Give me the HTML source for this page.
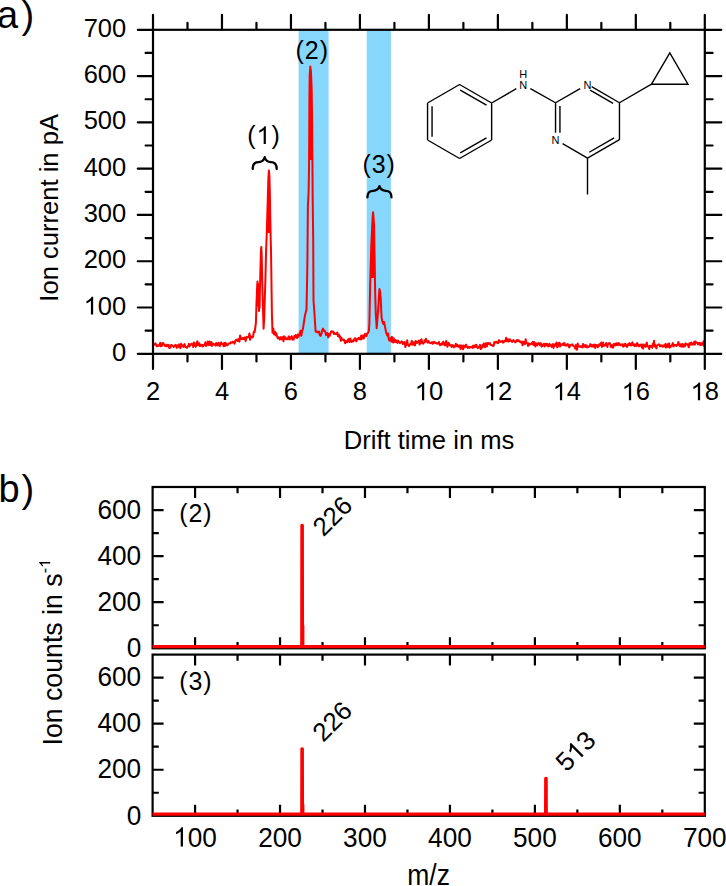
<!DOCTYPE html>
<html><head><meta charset="utf-8"><style>
html,body{margin:0;padding:0;background:#fff;width:726px;height:886px;overflow:hidden}
svg{display:block}
text{font-family:"Liberation Sans",sans-serif}
</style></head><body>
<svg width="726" height="886" viewBox="0 0 726 886" font-family="Liberation Sans, sans-serif">
<rect width="726" height="886" fill="#fff"/>
<rect x="298.6" y="29.8" width="30.0" height="324.0" fill="rgb(135,214,252)"/>
<rect x="366.7" y="29.8" width="24.2" height="324.0" fill="rgb(135,214,252)"/>
<path d="M153.00,344.05 L153.60,345.15 L154.20,344.20 L154.80,344.14 L155.40,343.36 L156.00,344.39 L156.60,346.23 L157.20,345.36 L157.80,346.24 L158.40,345.23 L159.00,345.48 L159.60,345.26 L160.20,342.81 L160.80,346.27 L161.40,345.85 L162.00,345.90 L162.60,343.00 L163.20,342.98 L163.80,344.19 L164.40,344.81 L165.00,345.91 L165.62,345.48 L166.23,346.28 L166.85,344.75 L167.46,346.07 L168.08,346.22 L168.69,344.84 L169.31,348.09 L169.92,346.56 L170.54,347.46 L171.15,345.05 L171.77,344.92 L172.38,345.50 L173.00,345.86 L173.62,346.89 L174.23,346.41 L174.85,345.51 L175.46,344.86 L176.08,345.49 L176.69,347.88 L177.31,345.18 L177.92,346.64 L178.54,346.92 L179.15,344.37 L179.77,346.49 L180.38,348.22 L181.00,343.78 L181.61,346.00 L182.22,346.23 L182.83,345.20 L183.43,346.91 L184.04,346.09 L184.65,344.13 L185.26,347.16 L185.87,346.88 L186.48,347.19 L187.09,347.79 L187.70,346.27 L188.30,345.88 L188.91,343.90 L189.52,346.42 L190.13,344.70 L190.74,344.85 L191.35,343.68 L191.96,344.02 L192.57,344.54 L193.17,346.94 L193.78,342.39 L194.39,343.10 L195.00,345.32 L195.61,346.91 L196.21,345.70 L196.82,342.31 L197.43,341.43 L198.04,345.27 L198.64,343.75 L199.25,343.19 L199.86,345.98 L200.46,346.10 L201.07,344.78 L201.68,344.86 L202.29,345.07 L202.89,346.59 L203.50,345.24 L204.11,345.06 L204.71,345.05 L205.32,342.15 L205.93,345.96 L206.54,345.48 L207.14,344.86 L207.75,341.44 L208.36,343.20 L208.96,345.15 L209.57,341.53 L210.18,343.68 L210.79,345.26 L211.39,342.07 L212.00,345.97 L212.61,344.57 L213.22,343.65 L213.83,344.32 L214.43,344.78 L215.04,344.09 L215.65,345.50 L216.26,343.09 L216.87,343.45 L217.48,345.44 L218.09,344.10 L218.70,342.90 L219.30,345.39 L219.91,346.12 L220.52,343.56 L221.13,342.33 L221.74,344.04 L222.35,344.04 L222.96,343.87 L223.57,346.19 L224.17,342.94 L224.78,346.05 L225.39,342.66 L226.00,343.34 L226.61,345.01 L227.22,345.44 L227.83,344.83 L228.44,343.89 L229.05,343.38 L229.66,343.15 L230.27,343.48 L230.88,342.22 L231.49,342.59 L232.10,342.74 L232.70,341.73 L233.31,342.52 L233.92,342.01 L234.53,343.71 L235.14,341.20 L235.75,339.94 L236.36,339.77 L236.97,340.01 L237.58,341.03 L238.19,339.09 L238.80,339.82 L239.42,341.65 L240.04,335.58 L240.66,337.39 L241.28,339.11 L241.90,339.19 L242.52,338.84 L243.14,337.81 L243.76,339.14 L244.38,338.51 L245.00,337.30 L245.62,341.16 L246.25,338.23 L246.88,336.88 L247.50,337.37 L248.12,337.07 L248.75,337.17 L249.38,333.44 L250.00,336.34 L250.00,339.86 L250.60,336.22 L251.20,337.01 L251.80,337.69 L252.40,336.86 L253.00,337.01 L253.85,331.45 L254.70,332.02 L255.30,327.29 L255.90,323.00 L256.50,303.00 L257.20,285.00 L257.50,281.50 L257.80,300.00 L258.10,284.00 L258.40,306.00 L258.70,290.00 L259.00,311.00 L259.30,296.00 L259.60,308.00 L259.90,290.00 L260.40,270.00 L261.00,250.00 L261.30,247.00 L261.70,255.00 L262.20,280.00 L262.70,300.00 L263.00,309.00 L263.60,328.64 L264.20,318.00 L264.80,299.00 L265.40,280.00 L265.80,262.00 L266.10,250.00 L266.70,235.00 L267.30,215.00 L267.90,195.00 L268.40,178.00 L268.90,170.40 L269.40,176.00 L269.90,195.00 L270.20,215.00 L270.60,235.00 L271.00,250.00 L271.40,279.00 L271.90,313.50 L272.50,332.77 L273.30,328.48 L274.10,334.37 L274.90,331.75 L275.60,335.39 L276.30,333.22 L277.00,336.24 L277.68,338.24 L278.35,337.05 L279.02,338.13 L279.70,339.58 L280.35,338.04 L281.00,337.08 L281.62,339.37 L282.25,338.82 L282.88,337.10 L283.50,341.31 L284.12,336.15 L284.75,339.03 L285.38,337.54 L286.00,338.18 L286.64,339.07 L287.29,338.53 L287.93,339.21 L288.57,336.40 L289.21,336.53 L289.86,339.52 L290.50,337.50 L291.14,337.16 L291.79,336.30 L292.43,339.74 L293.07,338.78 L293.71,339.50 L294.36,335.99 L295.00,337.00 L295.70,335.11 L296.40,337.33 L297.10,338.10 L297.80,334.40 L298.47,336.84 L299.13,335.20 L299.80,332.76 L300.55,330.79 L301.30,335.80 L302.15,331.12 L303.00,328.60 L303.60,324.50 L304.20,320.40 L304.80,316.30 L305.65,312.80 L306.50,309.30 L307.00,285.00 L307.40,262.00 L307.90,205.00 L308.60,192.00 L309.00,170.00 L309.20,140.00 L309.40,100.00 L309.70,75.00 L310.30,66.50 L311.00,72.00 L311.70,90.00 L312.10,120.00 L312.40,160.00 L312.70,200.00 L313.20,240.00 L313.50,300.50 L314.40,312.80 L315.00,322.45 L315.60,331.29 L316.37,332.07 L317.13,331.52 L317.90,332.42 L319.00,331.62 L319.80,334.98 L320.60,335.91 L321.30,334.41 L322.00,330.76 L323.00,328.60 L324.00,330.88 L324.67,330.82 L325.33,332.00 L326.00,334.92 L326.73,334.28 L327.47,333.17 L328.20,337.38 L328.97,333.76 L329.73,335.74 L330.50,333.43 L331.13,331.37 L331.77,331.39 L332.40,331.72 L333.10,331.51 L333.80,333.99 L334.50,332.92 L335.17,333.97 L335.83,334.15 L336.50,333.87 L337.25,332.44 L338.00,336.19 L338.80,334.42 L339.60,337.44 L340.22,336.46 L340.84,340.76 L341.46,337.87 L342.08,339.72 L342.70,339.69 L343.32,340.12 L343.94,339.57 L344.56,340.90 L345.18,343.21 L345.80,341.06 L346.42,341.67 L347.04,342.25 L347.66,340.58 L348.28,339.10 L348.90,340.00 L349.52,342.15 L350.14,338.43 L350.76,339.79 L351.38,341.91 L352.00,341.57 L352.62,340.46 L353.24,341.49 L353.86,340.57 L354.48,338.71 L355.10,338.14 L355.72,339.34 L356.34,341.40 L356.96,339.34 L357.58,338.83 L358.20,338.96 L358.80,337.68 L359.40,339.34 L360.00,337.66 L360.60,339.49 L361.20,335.56 L361.80,338.94 L362.40,337.38 L363.00,335.38 L363.68,338.54 L364.36,336.75 L365.04,333.67 L365.72,335.06 L366.40,336.19 L367.30,333.28 L368.10,332.80 L368.90,330.61 L369.40,322.40 L370.20,283.30 L371.30,245.70 L372.20,225.00 L373.00,212.20 L373.60,218.00 L374.10,226.00 L374.60,257.00 L375.10,289.80 L375.80,314.30 L376.70,328.20 L377.50,318.00 L378.40,306.00 L379.00,295.00 L379.50,289.00 L380.10,292.00 L380.70,298.00 L381.20,310.00 L381.60,317.60 L382.50,322.00 L383.30,324.00 L384.10,322.00 L384.90,326.14 L386.00,331.80 L386.90,334.79 L387.50,335.73 L388.10,333.54 L388.70,338.79 L389.30,340.57 L389.93,338.49 L390.57,338.34 L391.20,341.69 L391.83,336.78 L392.47,339.88 L393.10,342.61 L393.73,338.17 L394.37,340.44 L395.00,342.15 L395.80,340.10 L396.60,341.69 L397.40,342.82 L398.01,340.52 L398.62,341.76 L399.24,342.42 L399.85,343.28 L400.46,342.26 L401.07,342.18 L401.68,341.22 L402.29,342.24 L402.91,344.07 L403.52,343.15 L404.13,342.00 L404.74,342.16 L405.35,347.04 L405.96,345.12 L406.58,344.58 L407.19,340.36 L407.80,344.84 L408.45,344.56 L409.11,346.09 L409.76,344.30 L410.42,343.55 L411.07,344.25 L411.73,340.83 L412.38,344.76 L413.04,343.71 L413.69,342.23 L414.35,344.88 L415.00,345.44 L415.65,340.92 L416.31,341.74 L416.96,342.85 L417.62,342.52 L418.27,341.55 L418.93,340.59 L419.58,344.59 L420.24,342.95 L420.89,339.75 L421.55,339.37 L422.20,343.30 L422.82,342.44 L423.44,343.66 L424.06,342.39 L424.68,340.22 L425.30,341.85 L425.92,338.68 L426.54,340.69 L427.16,341.72 L427.78,342.61 L428.40,341.02 L429.02,341.93 L429.64,342.82 L430.26,342.81 L430.88,343.26 L431.50,342.78 L432.12,342.16 L432.74,343.77 L433.36,342.87 L433.98,341.78 L434.60,342.15 L435.21,343.09 L435.82,343.03 L436.44,343.48 L437.05,343.35 L437.66,343.68 L438.27,343.35 L438.88,341.92 L439.49,344.27 L440.11,345.22 L440.72,344.47 L441.33,343.72 L441.94,344.66 L442.55,342.84 L443.16,341.68 L443.78,344.40 L444.39,343.16 L445.00,345.50 L445.60,343.08 L446.20,341.03 L446.80,343.22 L447.40,346.79 L448.00,344.18 L448.60,342.89 L449.20,343.75 L449.80,345.52 L450.40,345.53 L451.00,345.14 L451.60,346.94 L452.20,345.93 L452.80,344.99 L453.40,345.87 L454.00,347.33 L454.60,346.45 L455.20,346.56 L455.80,343.76 L456.40,345.06 L457.00,346.29 L457.60,344.94 L458.20,346.82 L458.80,346.23 L459.40,346.69 L460.00,345.21 L460.60,349.01 L461.21,347.31 L461.81,345.42 L462.41,345.90 L463.02,349.36 L463.62,345.46 L464.23,347.17 L464.83,347.39 L465.43,346.14 L466.04,344.63 L466.64,346.53 L467.24,346.83 L467.85,347.94 L468.45,347.54 L469.06,346.59 L469.66,347.78 L470.26,347.43 L470.87,347.04 L471.47,346.91 L472.07,346.58 L472.68,347.90 L473.28,345.62 L473.89,346.27 L474.49,347.20 L475.09,345.28 L475.70,346.74 L476.30,344.69 L476.92,346.37 L477.55,347.95 L478.17,347.84 L478.79,346.89 L479.41,346.54 L480.04,344.83 L480.66,349.10 L481.28,347.22 L481.90,347.89 L482.53,345.12 L483.15,345.95 L483.77,343.63 L484.40,347.04 L485.02,347.14 L485.64,343.20 L486.26,345.58 L486.89,346.40 L487.51,343.06 L488.13,342.86 L488.75,343.78 L489.38,344.26 L490.00,343.11 L490.62,344.86 L491.25,344.96 L491.88,345.29 L492.50,345.20 L493.12,346.09 L493.75,345.45 L494.38,341.92 L495.00,342.82 L495.62,341.88 L496.25,341.67 L496.88,342.83 L497.50,342.76 L498.12,343.22 L498.75,340.23 L499.38,340.52 L500.00,341.97 L500.61,341.67 L501.22,341.46 L501.83,341.73 L502.44,340.73 L503.06,342.64 L503.67,342.11 L504.28,341.45 L504.89,340.60 L505.50,341.21 L506.11,337.71 L506.72,340.00 L507.33,341.32 L507.94,339.18 L508.56,341.41 L509.17,341.28 L509.78,339.16 L510.39,340.62 L511.00,340.48 L511.61,341.59 L512.22,341.87 L512.83,341.06 L513.43,340.03 L514.04,341.05 L514.65,341.23 L515.26,342.38 L515.87,341.85 L516.48,340.55 L517.09,339.77 L517.70,341.16 L518.30,340.74 L518.91,340.30 L519.52,341.72 L520.13,341.28 L520.74,342.16 L521.35,342.79 L521.96,341.59 L522.57,345.36 L523.17,341.86 L523.78,343.85 L524.39,342.59 L525.00,344.01 L525.61,339.36 L526.22,341.61 L526.83,343.03 L527.44,343.57 L528.04,345.98 L528.65,343.32 L529.26,344.68 L529.87,344.05 L530.48,344.36 L531.09,343.84 L531.70,343.00 L532.31,343.96 L532.91,341.89 L533.52,345.00 L534.13,342.10 L534.74,343.87 L535.35,346.46 L535.96,343.36 L536.57,343.76 L537.18,345.36 L537.79,343.89 L538.39,342.83 L539.00,344.34 L539.61,344.84 L540.22,345.08 L540.83,343.14 L541.44,346.61 L542.05,346.56 L542.66,344.40 L543.26,344.80 L543.87,343.93 L544.48,346.48 L545.09,343.68 L545.70,345.61 L546.30,344.06 L546.91,343.78 L547.51,345.70 L548.11,346.54 L548.72,344.73 L549.32,343.84 L549.92,345.86 L550.53,344.71 L551.13,345.20 L551.73,346.85 L552.33,346.33 L552.94,344.11 L553.54,347.90 L554.14,344.84 L554.75,345.90 L555.35,343.98 L555.95,344.80 L556.56,342.51 L557.16,347.29 L557.76,346.73 L558.37,343.26 L558.97,342.87 L559.57,342.73 L560.17,346.51 L560.78,344.31 L561.38,344.86 L561.98,344.53 L562.59,344.80 L563.19,343.50 L563.79,345.01 L564.40,343.05 L565.00,344.90 L565.60,345.47 L566.21,345.73 L566.81,344.84 L567.41,343.98 L568.02,345.47 L568.62,344.65 L569.22,347.46 L569.83,346.44 L570.43,345.29 L571.03,344.86 L571.63,344.60 L572.24,344.33 L572.84,345.17 L573.44,346.10 L574.05,346.45 L574.65,346.57 L575.25,348.68 L575.86,344.95 L576.46,345.97 L577.06,349.77 L577.67,343.53 L578.27,345.40 L578.87,346.38 L579.47,346.41 L580.08,346.80 L580.68,345.98 L581.28,346.84 L581.89,346.47 L582.49,347.49 L583.09,343.95 L583.70,345.36 L584.30,346.60 L584.90,345.15 L585.51,345.07 L586.11,347.26 L586.72,345.48 L587.32,347.15 L587.92,347.24 L588.53,346.58 L589.13,346.79 L589.73,345.90 L590.34,344.08 L590.94,345.88 L591.55,346.47 L592.15,345.09 L592.75,345.60 L593.36,346.69 L593.96,344.43 L594.57,346.42 L595.17,348.01 L595.77,344.68 L596.38,345.57 L596.98,345.10 L597.58,347.33 L598.19,345.61 L598.79,346.34 L599.40,344.13 L600.00,344.98 L600.62,344.98 L601.23,342.59 L601.85,346.92 L602.46,346.18 L603.08,342.60 L603.70,345.96 L604.31,344.77 L604.93,345.54 L605.55,345.42 L606.16,342.90 L606.78,344.62 L607.39,346.92 L608.01,344.12 L608.63,343.51 L609.24,343.04 L609.86,343.22 L610.48,345.32 L611.09,347.14 L611.71,345.43 L612.32,345.17 L612.94,347.85 L613.56,344.12 L614.17,343.90 L614.79,345.52 L615.41,345.54 L616.02,343.42 L616.64,343.20 L617.25,345.17 L617.87,345.10 L618.49,342.99 L619.10,344.48 L619.72,344.01 L620.34,345.35 L620.95,344.57 L621.57,344.60 L622.18,344.23 L622.80,346.12 L623.40,346.60 L624.00,344.25 L624.60,345.91 L625.20,343.76 L625.80,344.91 L626.40,345.84 L627.00,346.90 L627.60,344.36 L628.20,344.79 L628.80,345.18 L629.40,342.92 L630.00,344.98 L630.60,344.07 L631.20,345.50 L631.80,343.50 L632.40,342.38 L633.00,345.12 L633.60,345.44 L634.20,344.37 L634.80,346.33 L635.40,344.79 L636.00,344.36 L636.60,345.84 L637.20,343.10 L637.80,344.33 L638.40,345.23 L639.00,346.43 L639.60,345.09 L640.20,345.74 L640.80,344.46 L641.40,345.78 L642.00,347.64 L642.60,344.49 L643.20,348.63 L643.80,344.59 L644.40,345.50 L645.00,345.73 L645.60,346.88 L646.21,343.83 L646.81,342.66 L647.41,346.32 L648.01,346.57 L648.62,346.34 L649.22,349.05 L649.82,345.78 L650.42,345.84 L651.02,346.75 L651.63,346.00 L652.23,347.75 L652.83,343.83 L653.44,344.99 L654.04,340.85 L654.64,346.60 L655.24,345.00 L655.85,346.75 L656.45,348.41 L657.05,345.49 L657.65,345.16 L658.25,344.83 L658.86,344.37 L659.46,344.65 L660.06,346.36 L660.66,345.55 L661.27,345.59 L661.87,345.27 L662.47,346.73 L663.08,346.17 L663.68,345.31 L664.28,346.40 L664.88,345.30 L665.49,343.94 L666.09,347.46 L666.69,346.13 L667.29,344.21 L667.89,346.96 L668.50,345.97 L669.10,343.39 L669.71,347.63 L670.33,345.86 L670.94,346.57 L671.56,345.59 L672.17,345.08 L672.79,343.15 L673.40,346.50 L674.02,345.19 L674.63,344.72 L675.25,345.53 L675.86,345.12 L676.48,345.88 L677.09,344.43 L677.71,344.83 L678.32,341.95 L678.94,344.22 L679.55,345.66 L680.16,346.51 L680.78,344.17 L681.39,344.45 L682.01,346.71 L682.62,344.09 L683.24,345.48 L683.85,346.71 L684.47,344.45 L685.08,346.01 L685.70,343.35 L686.31,344.55 L686.93,344.12 L687.54,344.33 L688.16,345.66 L688.77,347.31 L689.39,343.15 L690.00,343.22 L690.62,344.62 L691.23,342.48 L691.85,344.52 L692.47,344.57 L693.08,343.38 L693.70,344.42 L694.32,341.56 L694.93,344.63 L695.55,341.46 L696.17,342.56 L696.78,342.70 L697.40,342.86 L698.02,344.51 L698.63,343.41 L699.25,342.71 L699.87,343.93 L700.48,345.28 L701.10,343.11 L701.72,343.54 L702.33,344.67 L702.95,343.31 L703.57,341.17 L704.18,346.21 L704.80,342.80" fill="none" stroke="#ff0000" stroke-width="2.0" stroke-linejoin="round"/>
<path d="M268.9,171 L269.9,195 L270.3,220 L270.5,233 L266.8,233 L267.3,215 L267.9,195 Z M310.3,67 L311.7,90 L312.4,160 L309.0,160 L309.4,100 L309.7,75 Z M373,213 L374.1,226 L374.5,252 L374.8,278 L370.6,278 L371.3,245.7 L372.2,225 Z" fill="#ff0000"/>
<rect x="153.0" y="29.8" width="551.8" height="324.0" fill="none" stroke="#000" stroke-width="2.2"/>
<path d="M153.00,354.8V368.90M153.00,28.8V14.90M187.49,354.8V361.50M187.49,28.8V22.80M221.97,354.8V368.90M221.97,28.8V14.90M256.46,354.8V361.50M256.46,28.8V22.80M290.95,354.8V368.90M290.95,28.8V14.90M325.44,354.8V361.50M325.44,28.8V22.80M359.92,354.8V368.90M359.92,28.8V14.90M394.41,354.8V361.50M394.41,28.8V22.80M428.90,354.8V368.90M428.90,28.8V14.90M463.39,354.8V361.50M463.39,28.8V22.80M497.88,354.8V368.90M497.88,28.8V14.90M532.36,354.8V361.50M532.36,28.8V22.80M566.85,354.8V368.90M566.85,28.8V14.90M601.34,354.8V361.50M601.34,28.8V22.80M635.82,354.8V368.90M635.82,28.8V14.90M670.31,354.8V361.50M670.31,28.8V22.80M704.80,354.8V368.90M704.80,28.8V14.90M152.0,353.80H137.80M705.8,353.80H721.30M152.0,330.66H145.60M705.8,330.66H712.60M152.0,307.51H137.80M705.8,307.51H721.30M152.0,284.37H145.60M705.8,284.37H712.60M152.0,261.23H137.80M705.8,261.23H721.30M152.0,238.09H145.60M705.8,238.09H712.60M152.0,214.94H137.80M705.8,214.94H721.30M152.0,191.80H145.60M705.8,191.80H712.60M152.0,168.66H137.80M705.8,168.66H721.30M152.0,145.51H145.60M705.8,145.51H712.60M152.0,122.37H137.80M705.8,122.37H721.30M152.0,99.23H145.60M705.8,99.23H712.60M152.0,76.09H137.80M705.8,76.09H721.30M152.0,52.94H145.60M705.8,52.94H712.60M152.0,29.80H137.80M705.8,29.80H721.30" stroke="#000" stroke-width="2.2" fill="none" stroke-linecap="round"/>
<g transform="translate(126.20,360.80) scale(1.0,1.015)"><text x="-14.18" y="0" font-size="25.5" fill="#000" >0</text></g>
<g transform="translate(126.20,314.51) scale(1.0,1.015)"><text x="-42.55" y="0" font-size="25.5" fill="#000" > 00</text><path d="M 763,-0 L 583,-0 L 583,-1098 Q 518,-1039 415,-980 Q 312,-922 223,-890 L 223,-1057 Q 374,-1125 487,-1221 Q 600,-1318 647,-1409 L 763,-1409 Z" fill="#000" transform="translate(-42.55,0) scale(0.01245)"/></g>
<g transform="translate(126.20,268.23) scale(1.0,1.015)"><text x="-42.55" y="0" font-size="25.5" fill="#000" >200</text></g>
<g transform="translate(126.20,221.94) scale(1.0,1.015)"><text x="-42.55" y="0" font-size="25.5" fill="#000" >300</text></g>
<g transform="translate(126.20,175.66) scale(1.0,1.015)"><text x="-42.55" y="0" font-size="25.5" fill="#000" >400</text></g>
<g transform="translate(126.20,129.37) scale(1.0,1.015)"><text x="-42.55" y="0" font-size="25.5" fill="#000" >500</text></g>
<g transform="translate(126.20,83.09) scale(1.0,1.015)"><text x="-42.55" y="0" font-size="25.5" fill="#000" >600</text></g>
<g transform="translate(126.20,36.80) scale(1.0,1.015)"><text x="-42.55" y="0" font-size="25.5" fill="#000" >700</text></g>
<g transform="translate(153.00,400.20) scale(1.0,1.015)"><text x="-7.09" y="0" font-size="25.5" fill="#000" >2</text></g>
<g transform="translate(221.97,400.20) scale(1.0,1.015)"><text x="-7.09" y="0" font-size="25.5" fill="#000" >4</text></g>
<g transform="translate(290.95,400.20) scale(1.0,1.015)"><text x="-7.09" y="0" font-size="25.5" fill="#000" >6</text></g>
<g transform="translate(359.92,400.20) scale(1.0,1.015)"><text x="-7.09" y="0" font-size="25.5" fill="#000" >8</text></g>
<g transform="translate(428.90,400.20) scale(1.0,1.015)"><text x="-14.18" y="0" font-size="25.5" fill="#000" > 0</text><path d="M 763,-0 L 583,-0 L 583,-1098 Q 518,-1039 415,-980 Q 312,-922 223,-890 L 223,-1057 Q 374,-1125 487,-1221 Q 600,-1318 647,-1409 L 763,-1409 Z" fill="#000" transform="translate(-14.18,0) scale(0.01245)"/></g>
<g transform="translate(497.88,400.20) scale(1.0,1.015)"><text x="-14.18" y="0" font-size="25.5" fill="#000" > 2</text><path d="M 763,-0 L 583,-0 L 583,-1098 Q 518,-1039 415,-980 Q 312,-922 223,-890 L 223,-1057 Q 374,-1125 487,-1221 Q 600,-1318 647,-1409 L 763,-1409 Z" fill="#000" transform="translate(-14.18,0) scale(0.01245)"/></g>
<g transform="translate(566.85,400.20) scale(1.0,1.015)"><text x="-14.18" y="0" font-size="25.5" fill="#000" > 4</text><path d="M 763,-0 L 583,-0 L 583,-1098 Q 518,-1039 415,-980 Q 312,-922 223,-890 L 223,-1057 Q 374,-1125 487,-1221 Q 600,-1318 647,-1409 L 763,-1409 Z" fill="#000" transform="translate(-14.18,0) scale(0.01245)"/></g>
<g transform="translate(635.82,400.20) scale(1.0,1.015)"><text x="-14.18" y="0" font-size="25.5" fill="#000" > 6</text><path d="M 763,-0 L 583,-0 L 583,-1098 Q 518,-1039 415,-980 Q 312,-922 223,-890 L 223,-1057 Q 374,-1125 487,-1221 Q 600,-1318 647,-1409 L 763,-1409 Z" fill="#000" transform="translate(-14.18,0) scale(0.01245)"/></g>
<g transform="translate(704.80,400.20) scale(1.0,1.015)"><text x="-14.18" y="0" font-size="25.5" fill="#000" > 8</text><path d="M 763,-0 L 583,-0 L 583,-1098 Q 518,-1039 415,-980 Q 312,-922 223,-890 L 223,-1057 Q 374,-1125 487,-1221 Q 600,-1318 647,-1409 L 763,-1409 Z" fill="#000" transform="translate(-14.18,0) scale(0.01245)"/></g>
<g transform="translate(429.10,449.30) scale(1.0,1.03)"><text x="-85.34" y="0" font-size="25.6" fill="#000" >Drift time in ms</text></g>
<g transform="translate(57.70,207.80) rotate(-90) scale(1.0,1.03)"><text x="-93.92" y="0" font-size="25.6" fill="#000" >Ion current in pA</text></g>
<g transform="translate(-3.00,28.10) scale(1.0,1.02)"><text x="0.00" y="0" font-size="38" fill="#000" >a</text></g>
<g transform="translate(21.40,27.70) scale(1.0,1.02)"><text x="0.00" y="0" font-size="38" fill="#000" >)</text></g>
<g transform="translate(-1.40,501.60) scale(1.0,1.025)"><text x="0.00" y="0" font-size="38" fill="#000" >b</text></g>
<g transform="translate(21.40,501.60) scale(1.0,1.02)"><text x="0.00" y="0" font-size="38" fill="#000" >)</text></g>
<g transform="translate(263.50,143.90) scale(1.0,1.03)"><text x="-16.15" y="0" font-size="25" fill="#000" >(</text><path d="M 763,-0 L 583,-0 L 583,-1098 Q 518,-1039 415,-980 Q 312,-922 223,-890 L 223,-1057 Q 374,-1125 487,-1221 Q 600,-1318 647,-1409 L 763,-1409 Z" fill="#000" transform="translate(-6.95,0) scale(0.01221)"/><text x="7.95" y="0" font-size="25" fill="#000" >)</text></g>
<g transform="translate(311.70,58.60) scale(1.0,1.03)"><text x="-16.15" y="0" font-size="25" fill="#000" >(</text><text x="-6.95" y="0" font-size="25" fill="#000" >2</text><text x="7.95" y="0" font-size="25" fill="#000" >)</text></g>
<g transform="translate(378.60,173.40) scale(1.0,1.03)"><text x="-16.15" y="0" font-size="25" fill="#000" >(</text><text x="-6.95" y="0" font-size="25" fill="#000" >3</text><text x="7.95" y="0" font-size="25" fill="#000" >)</text></g>
<path d="M252.7,169.0 C252.7,164.28 254.86,162.04 258.46,162.04 C261.34,162.04 263.50,161.45 264.70,157.2 C265.90,161.45 268.06,162.04 270.94,162.04 C274.54,162.04 276.7,164.28 276.7,169.0 M367.4,197.4 C367.4,192.92 369.57,190.79 373.18,190.79 C376.08,190.79 378.25,190.23 379.45,186.2 C380.65,190.23 382.82,190.79 385.72,190.79 C389.33,190.79 391.5,192.92 391.5,197.4" fill="none" stroke="#000" stroke-width="2.3" stroke-linecap="round" stroke-linejoin="round"/>
<path d="M459.60,84.50L491.64,103.00M491.64,103.00L491.64,140.00M491.64,140.00L459.60,158.50M459.60,158.50L427.56,140.00M427.56,140.00L427.56,103.00M427.56,103.00L459.60,84.50M460.23,90.06L486.51,105.23M486.51,137.77L460.23,152.94M432.06,136.67L432.06,106.33M491.64,103.00L516.34,88.65M530.39,88.59L555.54,102.75M555.54,102.75L580.15,88.54M591.65,86.70L619.46,102.75M590.12,90.09L613.13,103.37M619.46,102.75L619.46,139.65M619.46,139.65L587.50,158.10M589.23,152.25L614.16,137.86M587.50,158.10L562.57,143.71M555.54,102.75L555.54,132.64M559.94,106.07L559.94,132.64M587.50,158.10L587.50,194.40M619.46,102.75L651.50,84.20M651.5,84.2L669.8,53.0L688,84.2Z" fill="none" stroke="#000" stroke-width="1.4" stroke-linejoin="miter"/>
<g transform="translate(523.30,88.60)"><text x="-3.97" y="0" font-size="11" fill="#000" >N</text></g>
<g transform="translate(523.30,78.20)"><text x="-3.97" y="0" font-size="11" fill="#000" >H</text></g>
<g transform="translate(587.50,88.80)"><text x="-3.97" y="0" font-size="11" fill="#000" >N</text></g>
<g transform="translate(555.54,143.65)"><text x="-3.97" y="0" font-size="11" fill="#000" >N</text></g>
<rect x="152.6" y="487.0" width="552.1999999999999" height="161.29999999999995" fill="none" stroke="#000" stroke-width="2.2"/>
<path d="M195.08,648.3V637.3M195.08,487.0V498.0M237.55,648.3V642.0999999999999M237.55,487.0V493.2M280.03,648.3V637.3M280.03,487.0V498.0M322.51,648.3V642.0999999999999M322.51,487.0V493.2M364.98,648.3V637.3M364.98,487.0V498.0M407.46,648.3V642.0999999999999M407.46,487.0V493.2M449.94,648.3V637.3M449.94,487.0V498.0M492.42,648.3V642.0999999999999M492.42,487.0V493.2M534.89,648.3V637.3M534.89,487.0V498.0M577.37,648.3V642.0999999999999M577.37,487.0V493.2M619.85,648.3V637.3M619.85,487.0V498.0M662.32,648.3V642.0999999999999M662.32,487.0V493.2M152.6,625.26H158.79999999999998M704.8,625.26H698.5999999999999M152.6,602.21H163.6M704.8,602.21H693.8M152.6,579.17H158.79999999999998M704.8,579.17H698.5999999999999M152.6,556.13H163.6M704.8,556.13H693.8M152.6,533.09H158.79999999999998M704.8,533.09H698.5999999999999M152.6,510.04H163.6M704.8,510.04H693.8" stroke="#000" stroke-width="2.2" fill="none"/>
<path d="M152.6,646.69L301.77,646.69L301.92,525.25L302.32,525.25L302.47,646.69L704.8,646.69" fill="none" stroke="#ff0000" stroke-width="3.2" stroke-linejoin="round"/>
<path d="M303.72,646.69V625.26" fill="none" stroke="#ff0000" stroke-width="1.3"/>
<g transform="translate(141.20,657.00) scale(1.0,1.08)"><text x="-14.57" y="0" font-size="26.2" fill="#000" >0</text></g>
<g transform="translate(141.20,610.91) scale(1.0,1.08)"><text x="-43.71" y="0" font-size="26.2" fill="#000" >200</text></g>
<g transform="translate(141.20,564.83) scale(1.0,1.08)"><text x="-43.71" y="0" font-size="26.2" fill="#000" >400</text></g>
<g transform="translate(141.20,518.74) scale(1.0,1.08)"><text x="-43.71" y="0" font-size="26.2" fill="#000" >600</text></g>
<rect x="152.6" y="654.6" width="552.1999999999999" height="161.19999999999993" fill="none" stroke="#000" stroke-width="2.2"/>
<path d="M195.08,815.8V804.8M195.08,654.6V665.6M237.55,815.8V809.5999999999999M237.55,654.6V660.8000000000001M280.03,815.8V804.8M280.03,654.6V665.6M322.51,815.8V809.5999999999999M322.51,654.6V660.8000000000001M364.98,815.8V804.8M364.98,654.6V665.6M407.46,815.8V809.5999999999999M407.46,654.6V660.8000000000001M449.94,815.8V804.8M449.94,654.6V665.6M492.42,815.8V809.5999999999999M492.42,654.6V660.8000000000001M534.89,815.8V804.8M534.89,654.6V665.6M577.37,815.8V809.5999999999999M577.37,654.6V660.8000000000001M619.85,815.8V804.8M619.85,654.6V665.6M662.32,815.8V809.5999999999999M662.32,654.6V660.8000000000001M152.6,792.77H158.79999999999998M704.8,792.77H698.5999999999999M152.6,769.74H163.6M704.8,769.74H693.8M152.6,746.71H158.79999999999998M704.8,746.71H698.5999999999999M152.6,723.69H163.6M704.8,723.69H693.8M152.6,700.66H158.79999999999998M704.8,700.66H698.5999999999999M152.6,677.63H163.6M704.8,677.63H693.8" stroke="#000" stroke-width="2.2" fill="none"/>
<path d="M152.6,814.19L301.77,814.19L301.92,748.79L302.32,748.79L302.47,814.19L545.59,814.19L545.74,778.26L546.14,778.26L546.29,814.19L704.8,814.19" fill="none" stroke="#ff0000" stroke-width="3.2" stroke-linejoin="round"/>
<path d="M303.72,814.19V804.29" fill="none" stroke="#ff0000" stroke-width="1.3"/>
<g transform="translate(141.20,824.50) scale(1.0,1.08)"><text x="-14.57" y="0" font-size="26.2" fill="#000" >0</text></g>
<g transform="translate(141.20,778.44) scale(1.0,1.08)"><text x="-43.71" y="0" font-size="26.2" fill="#000" >200</text></g>
<g transform="translate(141.20,732.39) scale(1.0,1.08)"><text x="-43.71" y="0" font-size="26.2" fill="#000" >400</text></g>
<g transform="translate(141.20,686.33) scale(1.0,1.08)"><text x="-43.71" y="0" font-size="26.2" fill="#000" >600</text></g>
<g transform="translate(195.08,846.60) scale(1.0,1.08)"><text x="-21.86" y="0" font-size="26.2" fill="#000" > 00</text><path d="M 763,-0 L 583,-0 L 583,-1098 Q 518,-1039 415,-980 Q 312,-922 223,-890 L 223,-1057 Q 374,-1125 487,-1221 Q 600,-1318 647,-1409 L 763,-1409 Z" fill="#000" transform="translate(-21.86,0) scale(0.01279)"/></g>
<g transform="translate(280.03,846.60) scale(1.0,1.08)"><text x="-21.86" y="0" font-size="26.2" fill="#000" >200</text></g>
<g transform="translate(364.98,846.60) scale(1.0,1.08)"><text x="-21.86" y="0" font-size="26.2" fill="#000" >300</text></g>
<g transform="translate(449.94,846.60) scale(1.0,1.08)"><text x="-21.86" y="0" font-size="26.2" fill="#000" >400</text></g>
<g transform="translate(534.89,846.60) scale(1.0,1.08)"><text x="-21.86" y="0" font-size="26.2" fill="#000" >500</text></g>
<g transform="translate(619.85,846.60) scale(1.0,1.08)"><text x="-21.86" y="0" font-size="26.2" fill="#000" >600</text></g>
<g transform="translate(704.80,846.60) scale(1.0,1.08)"><text x="-21.86" y="0" font-size="26.2" fill="#000" >700</text></g>
<g transform="translate(428.60,884.60) scale(1.0,1.08)"><text x="-21.34" y="0" font-size="26.5" fill="#000" >m/z</text></g>
<g transform="translate(62.20,745.50) rotate(-90) scale(1.0,1.03)"><text x="0.00" y="0" font-size="26.7" fill="#000" >Ion counts in s</text></g>
<g transform="translate(50.20,573.30) rotate(-90)"><text x="0.00" y="0" font-size="16" fill="#000" >- </text><path d="M 763,-0 L 583,-0 L 583,-1098 Q 518,-1039 415,-980 Q 312,-922 223,-890 L 223,-1057 Q 374,-1125 487,-1221 Q 600,-1318 647,-1409 L 763,-1409 Z" fill="#000" transform="translate(5.33,0) scale(0.00781)"/></g>
<g transform="translate(195.40,521.50) scale(1.0,1.03)"><text x="-16.15" y="0" font-size="25" fill="#000" >(</text><text x="-6.95" y="0" font-size="25" fill="#000" >2</text><text x="7.95" y="0" font-size="25" fill="#000" >)</text></g>
<g transform="translate(195.40,690.30) scale(1.0,1.03)"><text x="-16.15" y="0" font-size="25" fill="#000" >(</text><text x="-6.95" y="0" font-size="25" fill="#000" >3</text><text x="7.95" y="0" font-size="25" fill="#000" >)</text></g>
<g transform="translate(323.40,537.60) rotate(-45)"><text x="0.00" y="0" font-size="25.9" fill="#000" >226</text></g>
<g transform="translate(323.20,742.90) rotate(-45)"><text x="0.00" y="0" font-size="25.9" fill="#000" >226</text></g>
<g transform="translate(566.40,772.80) rotate(-45)"><text x="0.00" y="0" font-size="26.2" fill="#000" >5 3</text><path d="M 763,-0 L 583,-0 L 583,-1098 Q 518,-1039 415,-980 Q 312,-922 223,-890 L 223,-1057 Q 374,-1125 487,-1221 Q 600,-1318 647,-1409 L 763,-1409 Z" fill="#000" transform="translate(14.57,0) scale(0.01279)"/></g>
</svg>
</body></html>
